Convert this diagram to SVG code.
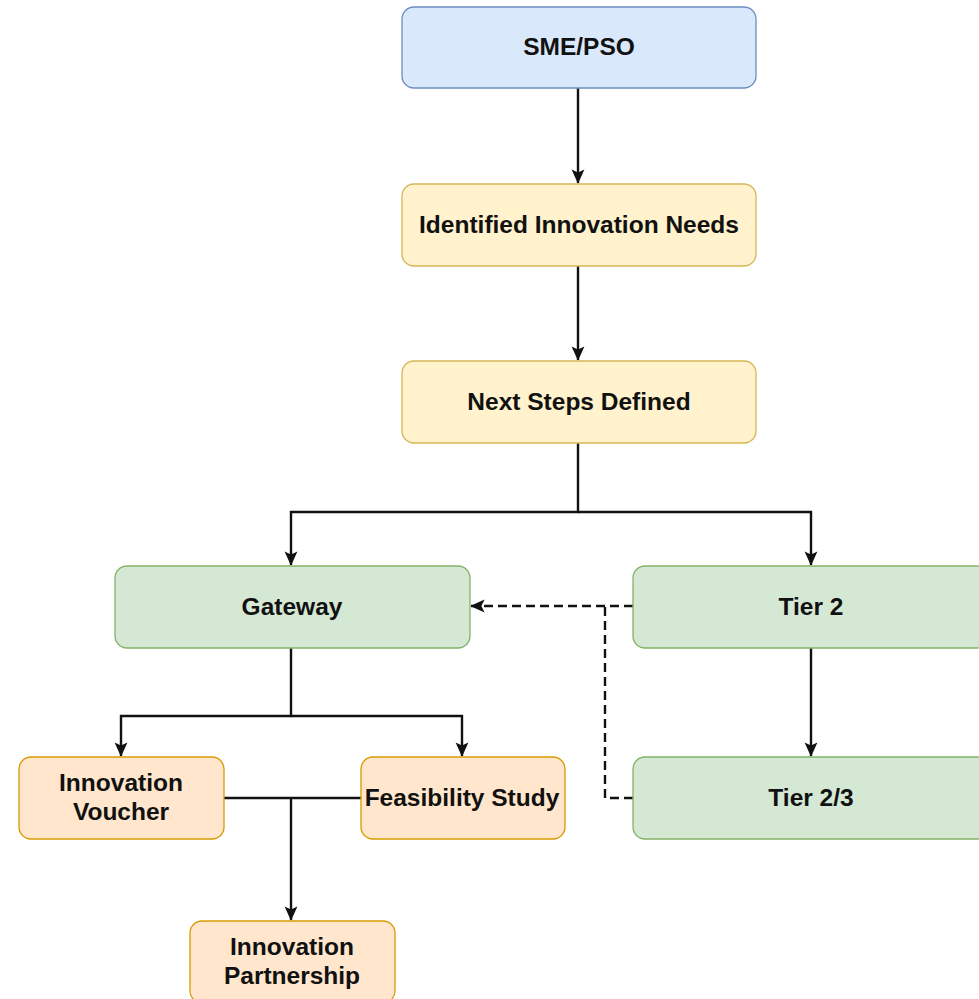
<svg xmlns="http://www.w3.org/2000/svg" width="979" height="999" viewBox="0 0 979 999">
<defs>
<style>
.n{stroke-width:1.3}
.blue{fill:#dae8fc;stroke:#6c8ebf}
.yel{fill:#fff2cc;stroke:#d6b656}
.grn{fill:#d5e8d4;stroke:#82b366}
.org{fill:#ffe6cc;stroke:#d79b00}
text{font-family:"Liberation Sans",Arial,sans-serif;font-weight:bold;font-size:24.5px;fill:#111;text-anchor:middle;dominant-baseline:central}
.c{fill:none;stroke:#111;stroke-width:2.4}
.d{stroke-dasharray:9 5}
</style>
<marker id="ah" viewBox="0 0 20 20" refX="18" refY="10" markerWidth="16" markerHeight="16" markerUnits="userSpaceOnUse" orient="auto">
<path d="M1,2 L19,10 L1,18 L5,10 Z" fill="#111"/>
</marker>
</defs>
<rect width="979" height="999" fill="#fff"/>
<g id="connectors">
<path class="c" d="M578,88 V183" marker-end="url(#ah)"/>
<path class="c" d="M578,266 V360" marker-end="url(#ah)"/>
<path class="c" d="M578,443 V512 H291 V565" marker-end="url(#ah)"/>
<path class="c" d="M578,512 H811 V565" marker-end="url(#ah)"/>
<path class="c" d="M291,648 V716 H121 V756" marker-end="url(#ah)"/>
<path class="c" d="M291,716 H462 V756" marker-end="url(#ah)"/>
<path class="c" d="M811,648 V756" marker-end="url(#ah)"/>
<path class="c" d="M224,798 H361"/>
<path class="c" d="M291,798 V920" marker-end="url(#ah)"/>
<path class="c d" d="M633,606 H471" marker-end="url(#ah)"/>
<path class="c d" d="M633,798 H605 V606"/>
</g>
<g id="sme"><rect class="n blue" x="402" y="7" width="354" height="81" rx="12"/><text x="579" y="46">SME/PSO</text></g>
<g id="needs"><rect class="n yel" x="402" y="184" width="354" height="82" rx="12"/><text x="579" y="224">Identified Innovation Needs</text></g>
<g id="next"><rect class="n yel" x="402" y="361" width="354" height="82" rx="12"/><text x="579" y="401">Next Steps Defined</text></g>
<g id="gateway"><rect class="n grn" x="115" y="566" width="355" height="82" rx="12"/><text x="292" y="606">Gateway</text></g>
<g id="tier2"><rect class="n grn" x="633" y="566" width="356" height="82" rx="12"/><text x="811" y="606">Tier 2</text></g>
<g id="tier23"><rect class="n grn" x="633" y="757" width="356" height="82" rx="12"/><text x="811" y="797">Tier 2/3</text></g>
<g id="voucher"><rect class="n org" x="19" y="757" width="205" height="82" rx="12"/><text x="121" y="782">Innovation</text><text x="121" y="811">Voucher</text></g>
<g id="feasibility"><rect class="n org" x="361" y="757" width="204" height="82" rx="12"/><text x="462" y="797">Feasibility Study</text></g>
<g id="partnership"><rect class="n org" x="190" y="921" width="205" height="82" rx="12"/><text x="292" y="946">Innovation</text><text x="292" y="975">Partnership</text></g>
</svg>
